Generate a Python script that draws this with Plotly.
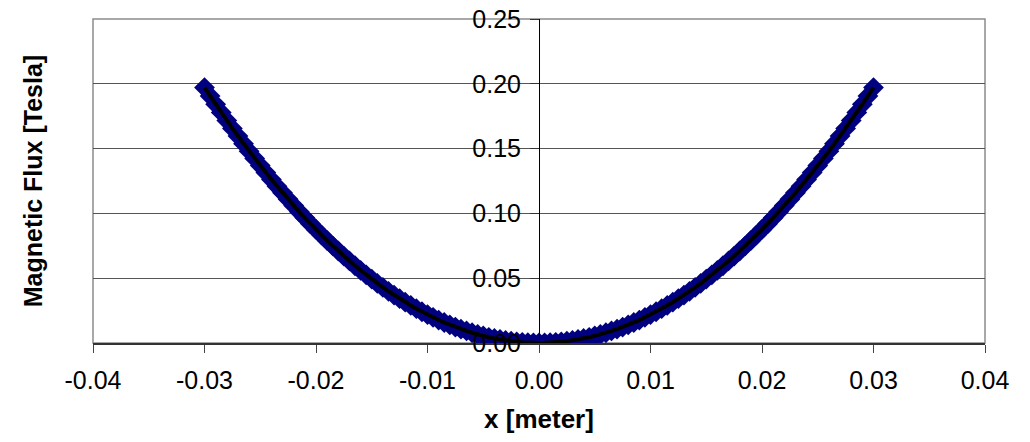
import plotly.graph_objects as go

# Position along the magnet [meter]
x_meter = [
    -0.0300, -0.0295, -0.0290, -0.0285, -0.0280, -0.0275, -0.0270, -0.0265, -0.0260, -0.0255,
    -0.0250, -0.0245, -0.0240, -0.0235, -0.0230, -0.0225, -0.0220, -0.0215, -0.0210, -0.0205,
    -0.0200, -0.0195, -0.0190, -0.0185, -0.0180, -0.0175, -0.0170, -0.0165, -0.0160, -0.0155,
    -0.0150, -0.0145, -0.0140, -0.0135, -0.0130, -0.0125, -0.0120, -0.0115, -0.0110, -0.0105,
    -0.0100, -0.0095, -0.0090, -0.0085, -0.0080, -0.0075, -0.0070, -0.0065, -0.0060, -0.0055,
    -0.0050, -0.0045, -0.0040, -0.0035, -0.0030, -0.0025, -0.0020, -0.0015, -0.0010, -0.0005,
    0.0000,
    0.0005, 0.0010, 0.0015, 0.0020, 0.0025, 0.0030, 0.0035, 0.0040, 0.0045, 0.0050,
    0.0055, 0.0060, 0.0065, 0.0070, 0.0075, 0.0080, 0.0085, 0.0090, 0.0095, 0.0100,
    0.0105, 0.0110, 0.0115, 0.0120, 0.0125, 0.0130, 0.0135, 0.0140, 0.0145, 0.0150,
    0.0155, 0.0160, 0.0165, 0.0170, 0.0175, 0.0180, 0.0185, 0.0190, 0.0195, 0.0200,
    0.0205, 0.0210, 0.0215, 0.0220, 0.0225, 0.0230, 0.0235, 0.0240, 0.0245, 0.0250,
    0.0255, 0.0260, 0.0265, 0.0270, 0.0275, 0.0280, 0.0285, 0.0290, 0.0295, 0.0300,
]

# Magnetic flux [Tesla]
flux_tesla = [
    0.1971, 0.1906, 0.1842, 0.1779, 0.1717, 0.1656, 0.1597, 0.1538, 0.1480, 0.1424,
    0.1369, 0.1315, 0.1261, 0.1209, 0.1159, 0.1109, 0.1060, 0.1012, 0.0966, 0.0920,
    0.0876, 0.0833, 0.0791, 0.0750, 0.0710, 0.0671, 0.0633, 0.0596, 0.0561, 0.0526,
    0.0493, 0.0460, 0.0429, 0.0399, 0.0370, 0.0342, 0.0315, 0.0290, 0.0265, 0.0241,
    0.0219, 0.0198, 0.0177, 0.0158, 0.0140, 0.0123, 0.0107, 0.0093, 0.0079, 0.0066,
    0.0055, 0.0044, 0.0035, 0.0027, 0.0020, 0.0014, 0.0009, 0.0005, 0.0002, 0.0001,
    0.0000,
    0.0001, 0.0002, 0.0005, 0.0009, 0.0014, 0.0020, 0.0027, 0.0035, 0.0044, 0.0055,
    0.0066, 0.0079, 0.0093, 0.0107, 0.0123, 0.0140, 0.0158, 0.0177, 0.0198, 0.0219,
    0.0241, 0.0265, 0.0290, 0.0315, 0.0342, 0.0370, 0.0399, 0.0429, 0.0460, 0.0493,
    0.0526, 0.0561, 0.0596, 0.0633, 0.0671, 0.0710, 0.0750, 0.0791, 0.0833, 0.0876,
    0.0920, 0.0966, 0.1012, 0.1060, 0.1109, 0.1159, 0.1209, 0.1261, 0.1315, 0.1369,
    0.1424, 0.1480, 0.1538, 0.1597, 0.1656, 0.1717, 0.1779, 0.1842, 0.1906, 0.1971,
]

x_ticks = [-0.04, -0.03, -0.02, -0.01, 0.00, 0.01, 0.02, 0.03, 0.04]
x_tick_labels = ["-0.04", "-0.03", "-0.02", "-0.01", "0.00", "0.01", "0.02", "0.03", "0.04"]
y_ticks = [0.00, 0.05, 0.10, 0.15, 0.20, 0.25]
y_tick_labels = ["0.00", "0.05", "0.10", "0.15", "0.20", "0.25"]

FONT = "Liberation Sans, Arial, sans-serif"

fig = go.Figure()
fig.add_trace(go.Scatter(
    x=x_meter, y=flux_tesla, mode="markers",
    marker=dict(symbol="diamond", size=16, color="#000080", line=dict(width=0)),
    showlegend=False, hoverinfo="skip",
))
fig.add_trace(go.Scatter(
    x=x_meter, y=flux_tesla, mode="lines",
    line=dict(color="black", width=4),
    showlegend=False,
))

fig.update_layout(
    width=1030, height=442,
    margin=dict(l=85, r=53, t=11, b=107),
    paper_bgcolor="white", plot_bgcolor="white",
    font=dict(family=FONT, size=25, color="black"),
    xaxis=dict(
        range=[-0.04, 0.04], tickvals=x_ticks, ticktext=x_tick_labels,
        automargin=False, ticklabeloverflow="allow",
        ticks="outside", ticklen=8, tickcolor="#444", tickwidth=1,
        ticklabelstandoff=6,
        showline=True, linecolor="#333", linewidth=1.5,
        showgrid=False, zeroline=False,
        tickfont=dict(size=25),
        title=dict(text="<b>x [meter]</b>", font=dict(size=26), standoff=17),
    ),
    yaxis=dict(
        range=[0, 0.25], tickvals=y_ticks, ticktext=y_tick_labels,
        anchor="free", position=0.5, automargin=False,
        ticklabeloverflow="allow",
        ticks="outside", ticklen=9, tickcolor="#333", tickwidth=1,
        ticklabelstandoff=4,
        showline=True, linecolor="black", linewidth=1,
        showgrid=True, gridcolor="#555555", gridwidth=1,
        zeroline=False,
        tickfont=dict(size=25),
    ),
    shapes=[dict(
        type="rect", xref="paper", yref="paper", x0=0, x1=1, y0=0, y1=1,
        line=dict(color="#8c8c8c", width=1.5), layer="below",
    )],
    annotations=[dict(
        text="<b>Magnetic Flux [Tesla]</b>", textangle=-90,
        xref="paper", yref="paper", x=-0.067, y=0.5,
        xanchor="center", yanchor="middle", showarrow=False,
        font=dict(size=25),
    )],
)

fig.write_html("out.html")
